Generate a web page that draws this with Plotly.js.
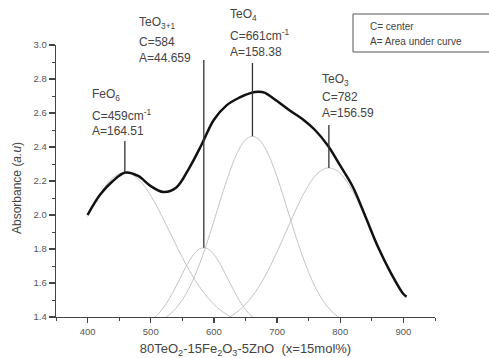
<!DOCTYPE html>
<html>
<head>
<meta charset="utf-8">
<script src="https://cdn.plot.ly/plotly-3.0.1.min.js"></script>
<style>
html,body{margin:0;padding:0;background:#fff;}
#chart{width:489px;height:358px;}
</style>
</head>
<body>
<div id="chart"></div>
<script>
// Measured envelope (thick black)
const envX = [400,420,440,460,480,500,520,540,560,580,600,620,640,660,670,680,700,720,740,760,780,800,820,840,860,880,900,905];
const envY = [2.00,2.12,2.20,2.25,2.23,2.17,2.135,2.16,2.27,2.41,2.56,2.645,2.69,2.72,2.725,2.72,2.67,2.615,2.565,2.50,2.41,2.29,2.165,1.99,1.81,1.66,1.535,1.52];

// Fitted component curves (thin grey)
const feo6X = [400,420,440,460,480,500,520,540,560,580,600,620,640,660,680,700];
const feo6Y = [1.991,2.126,2.219,2.250,2.212,2.114,1.976,1.824,1.681,1.563,1.474,1.415,1.379,1.359,1.348,1.343];

const teo31X = [480,490,500,510,520,530,540,550,560,570,580,590,600,610,620,630,640,650,660,670,680];
const teo31Y = [1.351,1.362,1.381,1.411,1.454,1.511,1.580,1.654,1.724,1.777,1.805,1.802,1.768,1.711,1.639,1.566,1.499,1.444,1.404,1.376,1.359];

const teo4X = [500,510,520,530,540,550,560,570,580,590,600,610,620,630,640,650,660,670,680,690,700,710,720,730,740,750,760,770,780,790,800,810,820];
const teo4Y = [1.359,1.371,1.389,1.415,1.452,1.501,1.565,1.644,1.739,1.847,1.964,2.085,2.201,2.305,2.388,2.442,2.463,2.449,2.401,2.324,2.224,2.109,1.989,1.870,1.760,1.662,1.579,1.512,1.460,1.421,1.393,1.374,1.361];

const teo3X = [620,630,640,650,660,670,680,690,700,710,720,730,740,750,760,770,780,790,800,810,820,830,840,850,860,870,880,890,900,905];
const teo3Y = [1.390,1.412,1.439,1.475,1.519,1.572,1.634,1.705,1.783,1.866,1.951,2.033,2.110,2.176,2.228,2.262,2.277,2.270,2.244,2.199,2.138,2.065,1.984,1.900,1.816,1.736,1.662,1.596,1.539,1.514];

// Peak annotations
const peakCenters = [459, 584, 661, 782];
const peakTops = [2.25, 1.808, 2.463, 2.277];
const labelNames = ["FeO<sub>6</sub>", "TeO<sub>3+1</sub>", "TeO<sub>4</sub>", "TeO<sub>3</sub>"];
const labelC = ["C=459cm<sup>-1</sup>", "C=584", "C=661cm<sup>-1</sup>", "C=782"];
const labelA = ["A=164.51", "A=44.659", "A=158.38", "A=156.59"];

const yTickVals = [1.4,1.6,1.8,2.0,2.2,2.4,2.6,2.8,3.0];
const yTickText = ["1.4","1.6","1.8","2.0","2.2","2.4","2.6","2.8","3.0"];
const xTickVals = [400,500,600,700,800,900];

// layout geometry (pixels)
const W = 489, H = 358, ML = 56, MR = 54, MT = 45, MB = 41;
const PW = W - ML - MR, PH = H - MT - MB;
const px = v => (v - ML) / PW;
const py = v => (H - MB - v) / PH;

const grey = '#c4c4c4';
const traces = [
  {x: feo6X, y: feo6Y, mode: 'lines', line: {color: grey, width: 1, shape: 'spline'}, hoverinfo: 'skip'},
  {x: teo31X, y: teo31Y, mode: 'lines', line: {color: grey, width: 1, shape: 'spline'}, hoverinfo: 'skip'},
  {x: teo4X, y: teo4Y, mode: 'lines', line: {color: grey, width: 1, shape: 'spline'}, hoverinfo: 'skip'},
  {x: teo3X, y: teo3Y, mode: 'lines', line: {color: grey, width: 1, shape: 'spline'}, hoverinfo: 'skip'},
  {x: envX, y: envY, mode: 'lines', line: {color: '#111', width: 2.5, shape: 'spline'}, hoverinfo: 'skip'}
];

// label positions (pixel): left x, rows y
const labelPos = [
  {x: 90, y: [95, 115, 131]},
  {x: 137, y: [23, 42, 58]},
  {x: 228, y: [15, 35, 52]},
  {x: 320, y: [80, 97, 113]}
];
const lineTopPx = [141, 60, 63, 125];

const annotations = [];
const shapes = [];
const tfont = {family: 'Liberation Sans, Arial, sans-serif', size: 12, color: '#444'};
for (let i = 0; i < peakCenters.length; i++) {
  const rows = [labelNames[i], labelC[i], labelA[i]];
  rows.forEach((t, k) => {
    annotations.push({text: t, xref: 'paper', yref: 'paper', x: px(labelPos[i].x), y: py(labelPos[i].y[k]),
      xanchor: 'left', yanchor: 'middle', showarrow: false, font: tfont});
  });
  shapes.push({type: 'line', xref: 'x', yref: 'y', x0: peakCenters[i], x1: peakCenters[i],
    y0: peakTops[i], y1: 1.4 + (H - MB - lineTopPx[i]) / PH * 1.6, line: {color: '#333', width: 1.3}});
}
// legend box
shapes.push({type: 'rect', xref: 'paper', yref: 'paper', x0: px(353), x1: px(495), y0: py(52), y1: py(14),
  line: {color: '#555', width: 1}, fillcolor: 'rgba(0,0,0,0)'});
annotations.push({text: 'C= center', xref: 'paper', yref: 'paper', x: px(368), y: py(26), xanchor: 'left', yanchor: 'middle',
  showarrow: false, font: {family: 'Liberation Sans, Arial, sans-serif', size: 10, color: '#444'}});
annotations.push({text: 'A= Area under curve', xref: 'paper', yref: 'paper', x: px(368), y: py(41), xanchor: 'left', yanchor: 'middle',
  showarrow: false, font: {family: 'Liberation Sans, Arial, sans-serif', size: 10, color: '#444'}});
// y axis title (placed as rotated text)
annotations.push({text: 'Absorbance (<i>a.u</i>)', xref: 'paper', yref: 'paper', x: px(17), y: py(188),
  xanchor: 'center', yanchor: 'middle', textangle: -90, showarrow: false,
  font: {family: 'Liberation Sans, Arial, sans-serif', size: 12, color: '#444'}});

const axFont = {family: 'Liberation Sans, Arial, sans-serif', size: 9.5, color: '#555'};
const layout = {
  width: W, height: H,
  margin: {l: ML, r: MR, t: MT, b: MB, pad: 0},
  paper_bgcolor: '#fff', plot_bgcolor: '#fff',
  showlegend: false,
  xaxis: {
    range: [350, 950], showgrid: false, zeroline: false,
    showline: true, linecolor: '#444', linewidth: 1.3,
    ticks: 'outside', ticklen: 5, tickwidth: 1.2, tickcolor: '#444',
    tickvals: xTickVals, ticktext: xTickVals.map(String), tickfont: axFont,
    minor: {dtick: 50, tick0: 350, ticks: 'outside', ticklen: 3, tickcolor: '#444', tickwidth: 1, showgrid: false},
    title: {text: '80TeO<sub>2</sub>-15Fe<sub>2</sub>O<sub>3</sub>-5ZnO  (x=15mol%)', standoff: 8,
      font: {family: 'Liberation Sans, Arial, sans-serif', size: 13, color: '#444'}}
  },
  yaxis: {
    range: [1.4, 3.0], showgrid: false, zeroline: false,
    showline: true, linecolor: '#444', linewidth: 1.3,
    ticks: 'outside', ticklen: 6, tickwidth: 1.2, tickcolor: '#444',
    tickvals: yTickVals, ticktext: yTickText, tickfont: axFont,
    minor: {dtick: 0.1, tick0: 1.4, ticks: 'outside', ticklen: 3, tickcolor: '#444', tickwidth: 1, showgrid: false}
  },
  annotations: annotations,
  shapes: shapes
};
Plotly.newPlot('chart', traces, layout, {staticPlot: true, displayModeBar: false});
</script>
</body>
</html>
